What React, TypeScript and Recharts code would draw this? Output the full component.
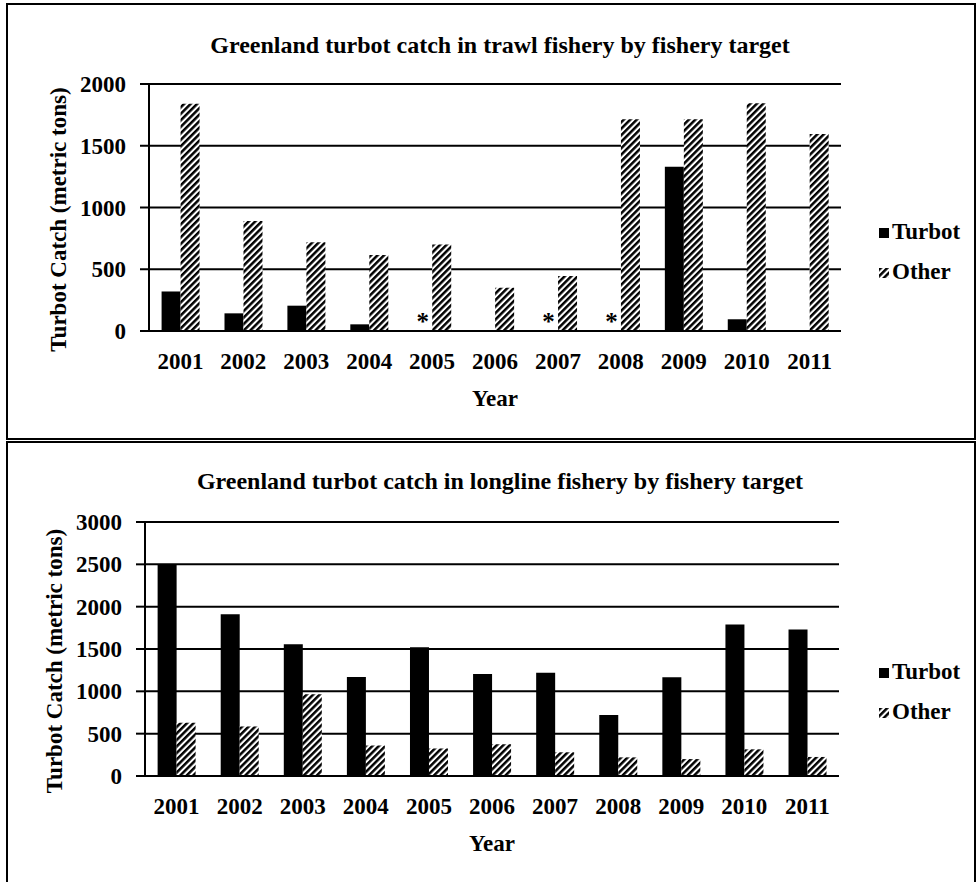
import { BarChart, Bar, XAxis, YAxis, CartesianGrid, LabelList } from "recharts";

// years on the x axis
const years = ["2001", "2002", "2003", "2004", "2005", "2006", "2007", "2008", "2009", "2010", "2011"];

// trawl fishery (metric tons)
const trawlTurbot = [320, 143, 205, 54, 0, 0, 0, 0, 1330, 95, 0];
const trawlOther = [1840, 890, 718, 615, 700, 351, 445, 1714, 1714, 1844, 1595];
// * = confidential turbot catch
const trawlNotes = ["", "", "", "", "*", "", "*", "*", "", "", ""];
const trawlTicks = [0, 500, 1000, 1500, 2000];

// longline fishery (metric tons)
const longTurbot = [2500, 1910, 1555, 1170, 1520, 1205, 1220, 720, 1165, 1790, 1730];
const longOther = [630, 585, 965, 360, 325, 375, 280, 220, 200, 315, 225];
const longNotes = ["", "", "", "", "", "", "", "", "", "", ""];
const longTicks = [0, 500, 1000, 1500, 2000, 2500, 3000];

const FONT = '"Liberation Serif", "Times New Roman", serif';

const makeRows = (turbot: number[], other: number[], notes: string[]) =>
  years.map((year, i) => ({ year, turbot: turbot[i], other: other[i], note: notes[i] }));

// the turbot slot is empty for these years, so the "*" hangs off the Other bar,
// one bar width to the left, sitting on the baseline
const renderNote = (props: any) => {
  const { x, y, width, height, value } = props;
  if (!value) return null;
  return (
    <text x={x - width / 2} y={y + height - 1} textAnchor="middle" fontSize={25} fontWeight="bold" fontFamily={FONT} fill="#000">
      {value}
    </text>
  );
};

const renderYLabel = (props: any) => {
  const vb = props.viewBox;
  const cx = vb.x - 31;
  const cy = vb.y + vb.height / 2 + 12;
  return (
    <text
      x={cx}
      y={cy}
      transform={`rotate(-90 ${cx} ${cy})`}
      textAnchor="middle"
      dominantBaseline="central"
      fontSize={23}
      fontWeight="bold"
      fontFamily={FONT}
      fill="#000"
    >
      Turbot Catch (metric tons)
    </text>
  );
};

type ChartProps = {
  id: string;
  title: string;
  rows: any[];
  ticks: number[];
  top: number;
  height: number;
  margin: { top: number; right: number; bottom: number; left: number };
  titleTop: number;
  legendTop: number;
};

function CatchChart({ id, title, rows, ticks, top, height, margin, titleTop, legendTop }: ChartProps) {
  const textStyle = { fontFamily: FONT, fontSize: 23, fontWeight: "bold" as const, color: "#000" };
  return (
    <div style={{ position: "absolute", left: 0, top, width: 976, height }}>
      <div style={{ ...textStyle, fontSize: 24, position: "absolute", left: 12, width: 976, top: titleTop, textAlign: "center", lineHeight: "26px" }}>
        {title}
      </div>
      <BarChart width={976} height={height} data={rows} margin={margin} barGap={0} barCategoryGap="20%">
        <defs>
          <pattern id={id} patternUnits="userSpaceOnUse" width={4.6} height={4.6} patternTransform="rotate(45)">
            <rect width={4.6} height={4.6} fill="#fff" />
            <rect width={2.5} height={4.6} fill="#000" />
          </pattern>
        </defs>
        <CartesianGrid vertical={false} stroke="#000" strokeWidth={2} />
        <XAxis
          dataKey="year"
          interval={0}
          height={30}
          axisLine={{ stroke: "#000", strokeWidth: 2 }}
          tickLine={false}
          tickSize={0}
          tickMargin={22}
          tick={{ fill: "#000", fontSize: 23, fontWeight: "bold", fontFamily: FONT }}
          label={{ value: "Year", position: "bottom", offset: 29, fill: "#000", fontSize: 23, fontWeight: "bold", fontFamily: FONT }}
        />
        <YAxis
          width={60}
          domain={[0, ticks[ticks.length - 1]]}
          ticks={ticks}
          interval={0}
          axisLine={{ stroke: "#000", strokeWidth: 2 }}
          tickLine={{ stroke: "#000", strokeWidth: 2 }}
          tickSize={9}
          tickMargin={14}
          tick={{ fill: "#000", fontSize: 23, fontWeight: "bold", fontFamily: FONT }}
          label={renderYLabel}
        />
        <Bar dataKey="turbot" fill="#000" isAnimationActive={false} />
        <Bar dataKey="other" fill={`url(#${id})`} isAnimationActive={false}>
          <LabelList dataKey="note" content={renderNote} />
        </Bar>
      </BarChart>
      <div style={{ ...textStyle, position: "absolute", left: 879, top: legendTop, lineHeight: "26px" }}>
        <div style={{ display: "flex", alignItems: "center", height: 26 }}>
          <span style={{ width: 10, height: 10, background: "#000", marginRight: 3, marginTop: 2 }} />
          Turbot
        </div>
        <div style={{ display: "flex", alignItems: "center", height: 26, marginTop: 14 }}>
          <svg width={10} height={10} style={{ marginRight: 3, marginTop: 2 }}>
            <rect width={10} height={10} fill={`url(#${id})`} />
          </svg>
          Other
        </div>
      </div>
    </div>
  );
}

export default function App() {
  const trawlRows = makeRows(trawlTurbot, trawlOther, trawlNotes);
  const longRows = makeRows(longTurbot, longOther, longNotes);
  return (
    <div style={{ position: "absolute", left: 0, top: 0, width: 976, height: 882, background: "#fff", overflow: "hidden" }}>
      <CatchChart
        id="hatchTrawl"
        title="Greenland turbot catch in trawl fishery by fishery target"
        rows={trawlRows}
        ticks={trawlTicks}
        top={0}
        height={440}
        margin={{ top: 84, right: 135, bottom: 79, left: 89 }}
        titleTop={32}
        legendTop={219}
      />
      <CatchChart
        id="hatchLong"
        title="Greenland turbot catch in longline fishery by fishery target"
        rows={longRows}
        ticks={longTicks}
        top={440}
        height={442}
        margin={{ top: 82, right: 137, bottom: 76, left: 85 }}
        titleTop={28}
        legendTop={219}
      />
      {/* panel frames */}
      <div style={{ position: "absolute", left: 6, top: 3, width: 966, height: 433, border: "2px solid #000" }} />
      <div style={{ position: "absolute", left: 6, top: 441, width: 966, height: 460, border: "2px solid #000" }} />
    </div>
  );
}
